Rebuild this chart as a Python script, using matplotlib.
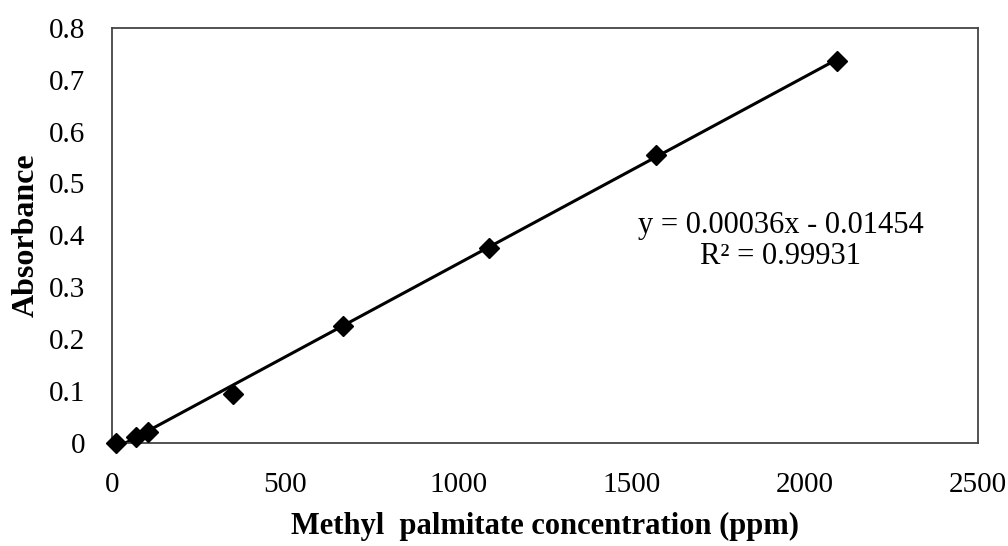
import matplotlib.pyplot as plt
import numpy as np

# Calibration data
conc_ppm = [12, 69, 104, 349, 667, 1088, 1570, 2093]
absorbance = [0.0, 0.012, 0.021, 0.094, 0.225, 0.376, 0.555, 0.736]

slope = 0.00036
intercept = -0.01454
r_squared = 0.99931

plt.rcParams['font.family'] = ['Liberation Serif', 'DejaVu Serif']

fig = plt.figure(figsize=(10.08, 5.46), dpi=100)
ax = fig.add_axes([0.111, 0.189, 0.859, 0.760])

# Linear trendline over the data range
x_fit = np.array([min(conc_ppm), max(conc_ppm)])
ax.plot(x_fit, slope * x_fit + intercept, color='black', lw=2.2, zorder=2)
ax.plot(conc_ppm, absorbance, linestyle='none', marker='D', ms=10,
        color='black', zorder=3, clip_on=False)

ax.set_xlim(0, 2500)
ax.set_ylim(0, 0.8)
ax.set_xticks([0, 500, 1000, 1500, 2000, 2500])
ax.set_yticks([0, 0.1, 0.2, 0.3, 0.4, 0.5, 0.6, 0.7, 0.8])
ax.set_yticklabels(['0', '0.1', '0.2', '0.3', '0.4', '0.5', '0.6', '0.7', '0.8'])
ax.tick_params(axis='x', length=0, pad=21, labelsize=21)
ax.tick_params(axis='y', length=0, pad=19, labelsize=21)

for sp in ax.spines.values():
    sp.set_color('#444444')
    sp.set_linewidth(1.3)

ax.set_xlabel('Methyl  palmitate concentration (ppm)', fontsize=22,
              fontweight='bold', labelpad=10)
ax.set_ylabel('Absorbance', fontsize=23, fontweight='bold', labelpad=6)

ax.text(1931, 0.389, f'y = {slope:.5f}x - {abs(intercept):.5f}\nR² = {r_squared}',
        ha='center', va='center', fontsize=22, linespacing=1.1)

fig.savefig('out.png', dpi=100)
